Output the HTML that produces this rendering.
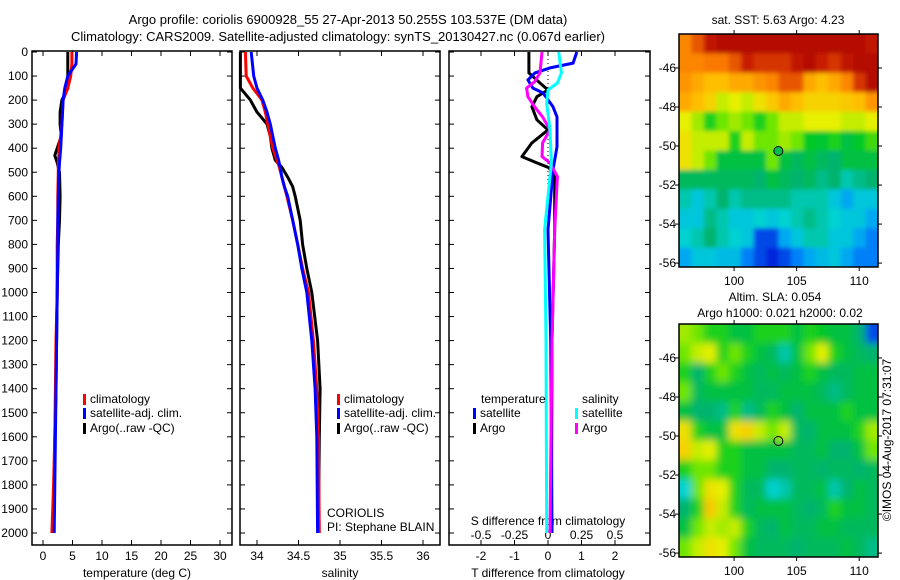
<!DOCTYPE html>
<html><head><meta charset="utf-8"><style>
body{margin:0;background:#fff;}
svg{display:block;font-family:"Liberation Sans",sans-serif;font-size:12px;}
</style></head><body>
<svg id="c" width="900" height="580" viewBox="0 0 900 580" xmlns="http://www.w3.org/2000/svg">
<defs>
<filter id="blurA" x="-5%" y="-5%" width="110%" height="110%"><feGaussianBlur stdDeviation="4"/></filter>
<filter id="blurB" x="-5%" y="-5%" width="110%" height="110%"><feGaussianBlur stdDeviation="2"/></filter>
<clipPath id="clipTop"><rect x="679" y="34" width="199" height="233"/></clipPath>
<clipPath id="clipBot"><rect x="679" y="324" width="199" height="233"/></clipPath>
</defs>
<text x="348" y="24" text-anchor="middle" font-size="13">Argo profile: coriolis 6900928_55 27-Apr-2013 50.255S 103.537E (DM data)</text>
<text x="338" y="41" text-anchor="middle" font-size="13">Climatology: CARS2009. Satellite-adjusted climatology: synTS_20130427.nc (0.067d earlier)</text>
<text x="778" y="24" text-anchor="middle">sat. SST: 5.63 Argo: 4.23</text>
<text x="775" y="301" text-anchor="middle">Altim. SLA: 0.054</text>
<text x="780" y="317" text-anchor="middle">Argo h1000: 0.021 h2000: 0.02</text>
<text transform="translate(891,440) rotate(-90)" text-anchor="middle">©IMOS 04-Aug-2017 07:31:07</text>
<g id="g"></g>
</svg>
<script>
// ---- data ----
const tDepth=[0,50,100,150,200,250,300,350,400,430,460,500,600,700,800,1000,1200,1400,1600,1800,2000];
const tArgo=[4.2,4.2,4.2,4.2,3.2,2.9,2.9,3.1,2.4,2.0,2.4,2.8,2.9,2.8,2.6,2.4,2.3,2.2,2.0,1.9,1.8];
const tClim=[4.9,4.9,4.7,4.2,3.4,3.3,3.2,3.0,2.7,2.7,2.6,2.6,2.5,2.5,2.4,2.4,2.2,2.1,2.0,1.8,1.5];
const tSat=[5.7,5.6,4.2,3.7,3.4,3.3,3.2,3.1,3.0,2.9,2.8,2.7,2.6,2.5,2.5,2.4,2.3,2.2,2.1,2.0,1.9];
const sDepth=[0,100,150,200,250,300,350,400,450,480,520,560,600,700,800,900,1000,1200,1400,1600,2000];
const sArgo=[33.80,33.80,33.80,33.92,34.00,34.12,34.16,34.18,34.22,34.30,34.37,34.43,34.46,34.52,34.55,34.60,34.66,34.73,34.76,34.75,34.74];
const sClim=[33.86,33.87,33.95,34.06,34.10,34.13,34.16,34.19,34.24,34.27,34.30,34.33,34.36,34.43,34.49,34.55,34.62,34.68,34.72,34.74,34.75];
const sSat=[33.93,33.96,34.00,34.07,34.12,34.16,34.19,34.22,34.26,34.28,34.30,34.33,34.37,34.43,34.49,34.54,34.60,34.66,34.70,34.72,34.73];
const dTSatDepth=[0,46,66,87,116,150,170,228,270,394,490,739,1200,2000];
const dTSat=[0.86,0.75,0.06,-0.39,-0.6,-0.45,-0.15,0.15,0.27,0.27,0.15,0.0,0.08,0.12];
const dTArgoDepth=[0,87,129,158,186,228,282,324,378,435,461,481,518,739,1200,2000];
const dTArgo=[-0.57,-0.57,-0.24,0,-0.33,-0.48,-0.33,0,-0.48,-0.78,-0.33,0.03,0.2,0.2,0.12,0.1];
const dSArgoDepth=[0,87,124,150,186,228,270,324,378,435,461,518,739,1200,2000];
const dSArgo=[-0.045,-0.06,-0.1,-0.16,-0.15,-0.1,-0.04,0.015,-0.04,-0.045,0.015,0.07,0.05,0.03,0.015];
const dSSatDepth=[0,87,129,158,214,324,461,739,1200,2000];
const dSSat=[0.08,0.1,0.07,0,-0.01,0.015,0.025,-0.025,-0.015,-0.01];
const sstGrid=[
[0.8,0.85,0.92,0.95,0.95,0.95,0.95,0.95,0.95,0.95,0.95,0.95,0.95,0.95,0.95,0.92],
[0.8,0.8,0.82,0.82,0.85,0.9,0.88,0.88,0.88,0.92,0.95,0.9,0.88,0.92,0.95,0.95],
[0.78,0.75,0.72,0.72,0.75,0.75,0.78,0.8,0.85,0.85,0.75,0.72,0.75,0.8,0.88,0.95],
[0.75,0.72,0.68,0.6,0.62,0.6,0.65,0.7,0.75,0.72,0.68,0.68,0.68,0.7,0.72,0.78],
[0.62,0.58,0.5,0.55,0.58,0.55,0.5,0.55,0.6,0.6,0.62,0.62,0.62,0.6,0.6,0.62],
[0.65,0.6,0.6,0.6,0.5,0.6,0.55,0.55,0.58,0.55,0.48,0.47,0.5,0.45,0.48,0.52],
[0.65,0.6,0.55,0.45,0.45,0.45,0.45,0.55,0.45,0.42,0.45,0.42,0.4,0.45,0.45,0.45],
[0.42,0.42,0.42,0.42,0.42,0.42,0.4,0.45,0.42,0.4,0.42,0.38,0.4,0.35,0.38,0.4],
[0.35,0.3,0.35,0.4,0.35,0.38,0.38,0.38,0.38,0.35,0.35,0.35,0.3,0.25,0.3,0.3],
[0.3,0.3,0.38,0.35,0.3,0.3,0.32,0.3,0.32,0.35,0.38,0.35,0.32,0.3,0.3,0.25],
[0.32,0.35,0.4,0.35,0.32,0.3,0.15,0.15,0.25,0.3,0.35,0.35,0.3,0.3,0.25,0.2],
[0.25,0.3,0.3,0.28,0.28,0.2,0.15,0.12,0.15,0.2,0.25,0.28,0.3,0.25,0.2,0.2]];
const slaGrid=[
[0.58,0.55,0.5,0.5,0.45,0.45,0.5,0.5,0.5,0.45,0.5,0.48,0.45,0.45,0.4,0.15],
[0.55,0.6,0.62,0.5,0.55,0.5,0.45,0.42,0.35,0.45,0.55,0.62,0.5,0.45,0.42,0.4],
[0.5,0.4,0.5,0.55,0.5,0.45,0.42,0.45,0.42,0.45,0.5,0.45,0.42,0.42,0.45,0.45],
[0.55,0.42,0.45,0.45,0.45,0.45,0.42,0.42,0.45,0.45,0.45,0.42,0.38,0.42,0.45,0.45],
[0.45,0.4,0.4,0.38,0.5,0.38,0.42,0.5,0.45,0.4,0.45,0.45,0.45,0.5,0.45,0.45],
[0.65,0.5,0.45,0.45,0.65,0.68,0.6,0.55,0.6,0.42,0.4,0.45,0.45,0.45,0.5,0.58],
[0.68,0.6,0.62,0.5,0.5,0.45,0.45,0.45,0.45,0.42,0.42,0.45,0.4,0.4,0.45,0.55],
[0.5,0.55,0.55,0.5,0.5,0.45,0.45,0.4,0.4,0.42,0.42,0.4,0.42,0.42,0.4,0.42],
[0.32,0.55,0.65,0.62,0.5,0.42,0.42,0.32,0.35,0.42,0.42,0.45,0.35,0.4,0.45,0.42],
[0.4,0.5,0.7,0.6,0.5,0.42,0.45,0.45,0.45,0.42,0.4,0.42,0.5,0.45,0.45,0.42],
[0.45,0.55,0.6,0.58,0.6,0.5,0.42,0.4,0.45,0.42,0.42,0.45,0.45,0.42,0.42,0.42],
[0.55,0.6,0.65,0.62,0.55,0.45,0.42,0.42,0.42,0.4,0.42,0.42,0.42,0.45,0.42,0.38]];
const depthTicks=[0,100,200,300,400,500,600,700,800,900,1000,1100,1200,1300,1400,1500,1600,1700,1800,1900,2000];
const tTicks=[0,5,10,15,20,25,30];
const sTicks=[34,34.5,35,35.5,36];
const dTTicks=[-2,-1,0,1,2];
const dSTicks=[-0.5,-0.25,0,0.25,0.5];
const dSLabels=['-0.5','-0.25','0','0.25','0.5'];
const latTicks=[-46,-48,-50,-52,-54,-56];
const lonTicks=[100,105,110];
const argoLon=103.537, argoLat=-50.255;

const NS="http://www.w3.org/2000/svg", G=document.getElementById('g');
function el(t,a,p){const e=document.createElementNS(NS,t);for(const k in a)e.setAttribute(k,a[k]);(p||G).appendChild(e);return e;}
function txt(x,y,s,anchor,p){const e=el('text',{x:x,y:y,'text-anchor':anchor||'start'},p);e.textContent=s;return e;}
const Y0=51,Y1=545;
const yD=d=>52+d*0.2405;
function lin(d0,d1,r0,r1){return v=>r0+(v-d0)*(r1-r0)/(d1-d0);}
const P1={x0:32,x1:232,sx:lin(0,30,43,220)};
const P2={x0:240,x1:440,sx:lin(34,36,257,423)};
const P3={x0:449,x1:650,sx:lin(0,2,548,615)};
const sxS=v=>P3.sx(v*4);

function frame(P,name){
  const r=el('rect',{x:P.x0,y:Y0,width:P.x1-P.x0,height:Y1-Y0,fill:'none',stroke:'#000','stroke-width':1.5});
  
  
}
function curve(P,sx,depths,vals,color,name){
  const pts=depths.map((d,i)=>sx(vals[i]).toFixed(1)+','+yD(d).toFixed(1)).join(' ');
  const e=el('polyline',{points:pts,fill:'none',stroke:color,'stroke-width':3,'stroke-linejoin':'round'});
  
  
}
[P1,P2,P3].forEach((P,i)=>frame(P,['temperature-panel','salinity-panel','difference-panel'][i]));
depthTicks.forEach(d=>{
  const y=yD(d);
  el('line',{x1:P1.x0,x2:P1.x0+5,y1:y,y2:y,stroke:'#000'});
  [P1,P2,P3].forEach(P=>el('line',{x1:P.x1-5,x2:P.x1,y1:y,y2:y,stroke:'#000'}));
  el('line',{x1:P2.x0,x2:P2.x0+5,y1:y,y2:y,stroke:'#000'});
  el('line',{x1:P3.x0,x2:P3.x0+5,y1:y,y2:y,stroke:'#000'});
  const t=txt(28,y+4,String(d),'end');
  
  
});
function xticks(P,sx,ticks,lblY){
  ticks.forEach(v=>{const x=sx(v);
    el('line',{x1:x,x2:x,y1:Y1,y2:Y1-5,stroke:'#000'});el('line',{x1:x,x2:x,y1:Y0,y2:Y0+5,stroke:'#000'});
    const t=txt(x,lblY,String(v),'middle');
    
    
  });
}
xticks(P1,P1.sx,tTicks,560);
xticks(P2,P2.sx,sTicks,560);
xticks(P3,P3.sx,dTTicks,560);
dSTicks.forEach((v,i)=>{const t=txt(sxS(v),539,dSLabels[i],'middle');
  
  });
[['temperature (deg C)',137],['salinity',340],['T difference from climatology',548]].forEach(a=>{
  const t=txt(a[1],577,a[0],'middle');
  
  });
{const t=txt(548,525,'S difference from climatology','middle');
 
 }
el('line',{x1:P3.sx(0),x2:P3.sx(0),y1:Y0,y2:200,stroke:'#000','stroke-dasharray':'1,3'});
curve(P1,P1.sx,tDepth,tArgo,'#000','temp-argo-line');
curve(P1,P1.sx,tDepth,tClim,'#f00','temp-climatology-line');
curve(P1,P1.sx,tDepth,tSat,'#00f','temp-satellite-line');
curve(P2,P2.sx,sDepth,sArgo,'#000','sal-argo-line');
curve(P2,P2.sx,sDepth,sClim,'#f00','sal-climatology-line');
curve(P2,P2.sx,sDepth,sSat,'#00f','sal-satellite-line');
curve(P3,P3.sx,dTArgoDepth,dTArgo,'#000','tdiff-argo-line');
curve(P3,P3.sx,dTSatDepth,dTSat,'#00f','tdiff-satellite-line');
curve(P3,sxS,dSArgoDepth,dSArgo,'#f0f','sdiff-argo-line');
curve(P3,sxS,dSSatDepth,dSSat,'#0ff','sdiff-satellite-line');
function leg(x,y,color,label){
  el('rect',{x:x,y:y-9,width:3,height:11,fill:color});
  const t=txt(x+7,y,label);
  
  
}
[83,337].forEach(x=>{
  leg(x,403,'#f00','climatology');leg(x,417,'#00f','satellite-adj. clim.');leg(x,432,'#000','Argo(..raw -QC)');});
txt(481,403,'temperature');txt(582,403,'salinity');
leg(473,417,'#00f','satellite');leg(473,432,'#000','Argo');
leg(575,417,'#0ff','satellite');leg(575,432,'#f0f','Argo');
txt(327,517,'CORIOLIS');txt(327,531,'PI: Stephane BLAIN');
// colormap
const stops=[[0,0,0,140],[0.12,0,40,220],[0.22,0,150,255],[0.32,0,210,210],[0.4,0,180,110],[0.48,0,200,40],[0.55,110,230,0],[0.62,230,240,0],[0.72,255,190,0],[0.82,250,120,0],[0.9,200,30,0],[1,160,0,0]];
function cmap(v){
  v=Math.max(0,Math.min(1,v));
  for(let i=1;i<stops.length;i++){if(v<=stops[i][0]){const a=stops[i-1],b=stops[i],f=(v-a[0])/(b[0]-a[0]);
    return 'rgb('+[1,2,3].map(k=>Math.round(a[k]+f*(b[k]-a[k]))).join(',')+')';}}
  return 'rgb(160,0,0)';
}
function map(grid,y0,y1,filled,name,clip,blur){
  const x0=679,x1=878,lon0=95.6,lon1=111.5,lat0=-44.26,lat1=-56.2;
  const sx=lin(lon0,lon1,x0,x1),sy=lin(lat0,lat1,y0,y1);
  const rows=grid.length,cols=grid[0].length;
  const dLat=(lat1-lat0)/rows,dLon=(lon1-lon0)/cols;
  const outer=el('g',{'clip-path':'url(#'+clip+')'});
  const g=el('g',{filter:'url(#'+blur+')'},outer);
  
  
  grid.forEach((row,i)=>row.forEach((v,j)=>{
    const xa=sx(lon0+j*dLon),xb=sx(lon0+(j+1)*dLon),ya=sy(lat0+i*dLat),yb=sy(lat0+(i+1)*dLat);
    // extend edge cells so blur doesn't fade at borders
    const ex0=j===0?xa-10:xa, ex1=j===cols-1?xb+10:xb, ey0=i===0?ya-10:ya, ey1=i===rows-1?yb+10:yb;
    const c=el('rect',{x:ex0,y:ey0,width:ex1-ex0+0.6,height:ey1-ey0+0.6,fill:cmap(v)},g);
    
    
  }));
  el('rect',{x:x0,y:y0,width:x1-x0,height:y1-y0,fill:'none',stroke:'#000','stroke-width':1.5});
  latTicks.forEach(l=>{const y=sy(l);
    el('line',{x1:x0-4,x2:x0,y1:y,y2:y,stroke:'#000'});el('line',{x1:x1,x2:x1+4,y1:y,y2:y,stroke:'#000'});
    const t=txt(676,y+4,String(l),'end');
    
    });
  lonTicks.forEach(l=>{const x=sx(l);
    el('line',{x1:x,x2:x,y1:y0-4,y2:y0,stroke:'#000'});el('line',{x1:x,x2:x,y1:y1,y2:y1+4,stroke:'#000'});
    const t=txt(x,y1+18,String(l),'middle');
    
    });
  const m=el('circle',{cx:sx(argoLon),cy:sy(argoLat),r:4.5,fill:filled?cmap(0.44):'none',stroke:'#000'});
  
  
}
map(sstGrid,34,267,true,'sst-map','clipTop','blurB');
map(slaGrid,324,557,false,'sla-map','clipBot','blurA');
</script>
</body></html>
